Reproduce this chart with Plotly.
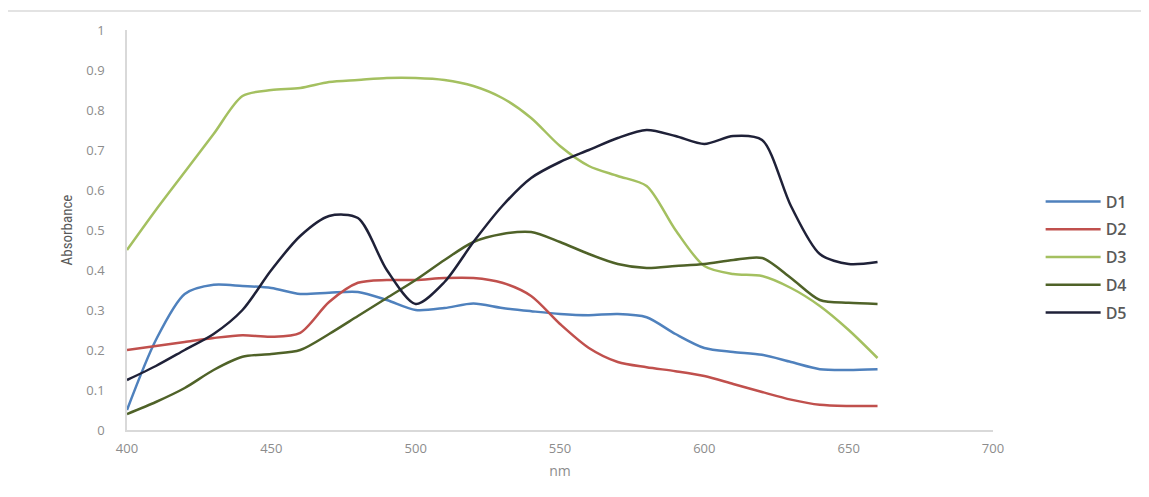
import plotly.graph_objects as go

wavelength = [400, 410, 420, 430, 440, 450, 460, 470, 480, 490, 500, 510, 520, 530,
              540, 550, 560, 570, 580, 590, 600, 610, 620, 630, 640, 650, 660]

D1 = [0.05, 0.225, 0.34, 0.363, 0.36, 0.355, 0.34, 0.343, 0.345, 0.325, 0.30, 0.305, 0.316, 0.305,
      0.297, 0.29, 0.287, 0.29, 0.282, 0.24, 0.205, 0.195, 0.188, 0.17, 0.152, 0.15, 0.152]
D2 = [0.20, 0.21, 0.22, 0.23, 0.237, 0.233, 0.243, 0.32, 0.368, 0.375, 0.375, 0.38, 0.38, 0.368,
      0.335, 0.265, 0.205, 0.17, 0.157, 0.147, 0.135, 0.115, 0.095, 0.076, 0.063, 0.06, 0.06]
D3 = [0.45, 0.55, 0.645, 0.74, 0.835, 0.85, 0.855, 0.87, 0.875, 0.88, 0.88, 0.875, 0.86, 0.83,
      0.78, 0.71, 0.66, 0.635, 0.61, 0.50, 0.41, 0.39, 0.385, 0.355, 0.31, 0.25, 0.18]
D4 = [0.04, 0.07, 0.105, 0.15, 0.183, 0.19, 0.20, 0.24, 0.285, 0.33, 0.375, 0.425, 0.47, 0.49,
      0.495, 0.47, 0.44, 0.415, 0.405, 0.41, 0.415, 0.425, 0.43, 0.38, 0.325, 0.318, 0.315]
D5 = [0.125, 0.16, 0.2, 0.24, 0.3, 0.40, 0.485, 0.535, 0.53, 0.40, 0.315, 0.37, 0.47, 0.56,
      0.63, 0.67, 0.70, 0.73, 0.75, 0.735, 0.715, 0.735, 0.725, 0.56, 0.44, 0.415, 0.42]

series = [("D1", D1, "#4F81BD"), ("D2", D2, "#C0504D"), ("D3", D3, "#A4C060"),
          ("D4", D4, "#4F6228"), ("D5", D5, "#1F2138")]

x_ticks = [400, 450, 500, 550, 600, 650, 700]
y_ticks = [0, 0.1, 0.2, 0.3, 0.4, 0.5, 0.6, 0.7, 0.8, 0.9, 1]
y_tick_text = ["0", "0.1", "0.2", "0.3", "0.4", "0.5", "0.6", "0.7", "0.8", "0.9", "1"]

fig = go.Figure()
for name, vals, col in series:
    fig.add_trace(go.Scatter(x=wavelength, y=vals, name=name, mode="lines", legendgroup=name,
                             line=dict(color=col, width=2.5, shape="spline", smoothing=0.8)))

fig.update_layout(
    width=1149, height=497,
    margin=dict(l=119, r=164, t=22, b=75),
    paper_bgcolor="white", plot_bgcolor="white",
    font=dict(family="Open Sans, sans-serif", color="#8C8C8C", size=13),
    showlegend=True,
    legend=dict(x=1.055, y=0.4325, xanchor="left", yanchor="middle",
                font=dict(size=16, color="#595959", family="Open Sans, sans-serif", weight=600),
                tracegroupgap=4, itemwidth=55, bgcolor="rgba(0,0,0,0)"),
    xaxis=dict(range=[400, 700], tickvals=x_ticks, showgrid=False, zeroline=False,
               showline=True, linecolor="#D9D9D9", linewidth=1.5, ticks="",
               ticklabelstandoff=6,
               tickfont=dict(size=13, color="#8C8C8C"),
               title=dict(text="nm", font=dict(size=14, color="#8C8C8C"), standoff=10)),
    yaxis=dict(range=[0, 1], tickvals=y_ticks, ticktext=y_tick_text, showgrid=False,
               zeroline=False, showline=True, linecolor="#D9D9D9", linewidth=1.5, ticks="",
               ticklabelstandoff=18,
               tickfont=dict(size=13, color="#8C8C8C"),
               title=dict(text="Absorbance", font=dict(size=15, color="#595959",
                                                       family="Liberation Sans Narrow, Roboto Condensed, sans-serif"),
                          standoff=10)),
    shapes=[
        dict(type="line", xref="paper", yref="paper", x0=-0.1386, x1=1.2, y0=1.0475, y1=1.0475,
             line=dict(color="#E3E3E3", width=2)),
        dict(type="line", xref="paper", yref="paper", x0=-0.1386, x1=-0.1386, y0=1.0475, y1=-0.2,
             line=dict(color="#E3E3E3", width=2)),
    ],
)

fig.write_html("out.html")
